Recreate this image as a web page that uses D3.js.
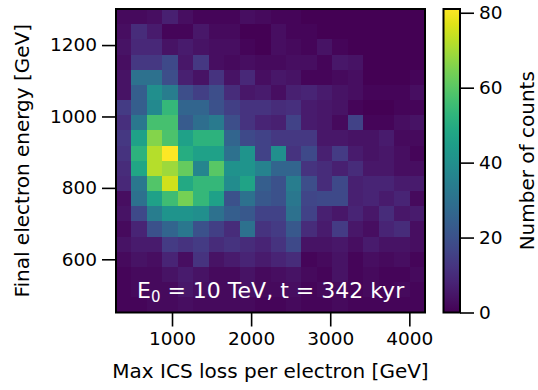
<!DOCTYPE html>
<html>
<head>
<meta charset="utf-8">
<script src="https://cdn.jsdelivr.net/npm/d3@7"></script>
<style>
  html, body { margin: 0; padding: 0; background: #fff; }
  svg text { font-family: "DejaVu Sans", sans-serif; }
</style>
</head>
<body>
<div id="chart"></div>
<script>
// histogram bin ranges (20 x 20 bins)
const xRange = [292, 4198];   // Max ICS loss per electron [GeV]
const yRange = [451, 1301];   // Final electron energy [GeV]
const nBinsX = 20;
const nBinsY = 20;

// counts, rows from highest energy (top) to lowest (bottom)
const counts = [
  [2, 2, 3, 7, 3, 1, 1, 1, 3, 2, 1, 1, 0, 0, 0, 0, 0, 0, 0, 0],
  [3, 10, 6, 1, 1, 5, 2, 2, 0, 0, 3, 1, 1, 0, 0, 0, 0, 0, 0, 0],
  [4, 9, 9, 4, 6, 4, 3, 3, 1, 0, 3, 2, 1, 4, 1, 0, 0, 0, 0, 0],
  [3, 13, 13, 18, 5, 13, 3, 2, 3, 2, 2, 3, 3, 1, 5, 4, 0, 0, 0, 0],
  [4, 30, 30, 19, 7, 4, 12, 4, 9, 3, 5, 4, 1, 1, 2, 3, 0, 0, 0, 1],
  [4, 24, 40, 34, 19, 15, 19, 10, 5, 6, 3, 7, 8, 6, 4, 3, 1, 1, 1, 3],
  [14, 24, 38, 54, 26, 26, 20, 15, 12, 12, 10, 11, 6, 5, 4, 1, 0, 0, 1, 1],
  [11, 32, 57, 57, 23, 29, 33, 19, 12, 8, 7, 16, 6, 5, 2, 16, 1, 1, 3, 4],
  [13, 46, 66, 58, 46, 52, 52, 26, 18, 16, 13, 13, 13, 5, 5, 4, 4, 6, 2, 2],
  [12, 52, 72, 81, 50, 46, 46, 30, 42, 16, 40, 12, 18, 7, 14, 6, 4, 5, 3, 1],
  [10, 48, 72, 69, 62, 37, 60, 41, 42, 36, 26, 26, 12, 10, 7, 10, 5, 5, 3, 3],
  [9, 32, 59, 75, 49, 54, 54, 39, 47, 24, 20, 34, 19, 10, 18, 7, 8, 8, 6, 6],
  [3, 30, 46, 56, 64, 54, 46, 20, 30, 22, 20, 32, 17, 18, 18, 7, 8, 6, 8, 2],
  [4, 18, 34, 42, 42, 40, 30, 24, 22, 16, 16, 30, 16, 7, 5, 8, 5, 10, 5, 6],
  [2, 8, 20, 26, 32, 20, 15, 10, 30, 12, 14, 22, 10, 6, 14, 5, 3, 8, 10, 3],
  [4, 6, 6, 14, 12, 14, 10, 12, 10, 8, 12, 18, 4, 4, 5, 3, 6, 4, 4, 3],
  [2, 4, 3, 8, 3, 12, 4, 6, 8, 6, 8, 10, 1, 2, 4, 1, 3, 2, 3, 1],
  [1, 2, 2, 4, 6, 4, 2, 2, 4, 2, 3, 4, 2, 1, 4, 1, 2, 1, 1, 2],
  [1, 2, 2, 2, 5, 3, 2, 2, 4, 2, 2, 3, 1, 2, 2, 1, 2, 1, 2, 1],
  [1, 1, 2, 2, 3, 2, 2, 2, 2, 1, 1, 2, 1, 1, 2, 1, 1, 1, 1, 1]
];

const xTicks = [1000, 2000, 3000, 4000];
const yTicks = [600, 800, 1000, 1200];
const cbTicks = [0, 20, 40, 60, 80];
const cbMax = 81;

const xLabel = 'Max ICS loss per electron [GeV]';
const yLabel = 'Final electron energy [GeV]';
const cbLabel = 'Number of counts';

const width = 538, height = 390;
const plot = { left: 116, right: 425, top: 9, bottom: 312.5 };
const cbar = { left: 443.5, right: 460, top: 9, bottom: 312.5 };
const tickFs = 18.5;
const labelFs = 20;

const svg = d3.select('#chart').append('svg')
              .attr('width', width)
              .attr('height', height);

const x = d3.scaleLinear().domain(xRange).range([plot.left, plot.right]);
const y = d3.scaleLinear().domain(yRange).range([plot.bottom, plot.top]);
const color = d3.scaleSequential(d3.interpolateViridis).domain([0, cbMax]);

const dx = (xRange[1] - xRange[0]) / nBinsX;
const dy = (yRange[1] - yRange[0]) / nBinsY;

// flatten to cells
const cells = [];
counts.forEach((row, r) => {
	row.forEach((v, c) => {
		const y0 = yRange[1] - (r + 1) * dy;
		cells.push({ x0: xRange[0] + c * dx, x1: xRange[0] + (c + 1) * dx, y0: y0, y1: y0 + dy, v: v });
	});
});

svg.append('g')
   .attr('class', 'cells')
   .attr('shape-rendering', 'crispEdges')
   .selectAll('rect')
   .data(cells)
   .join('rect')
   .attr('x', d => x(d.x0))
   .attr('y', d => y(d.y1))
   .attr('width', d => x(d.x1) - x(d.x0) + 0.5)
   .attr('height', d => y(d.y0) - y(d.y1) + 0.5)
   .attr('fill', d => color(d.v));

// annotation
const note = svg.append('text')
                .attr('x', 137)
                .attr('y', 298)
                .attr('fill', '#fff')
                .attr('font-size', 22);
note.append('tspan').text('E');
note.append('tspan').attr('font-size', 15).attr('dy', 4).text('0');
note.append('tspan').attr('dy', -4).text(' = 10 TeV, t = 342 kyr');

// axes
const styleAxis = g => {
	g.select('.domain').remove();
	g.selectAll('line').attr('stroke', '#000').attr('stroke-width', 1.6);
	g.selectAll('text').attr('fill', '#000').attr('font-size', tickFs);
};

svg.append('g')
   .attr('transform', `translate(0, ${plot.bottom})`)
   .call(d3.axisBottom(x).tickValues(xTicks).tickSize(14).tickPadding(5).tickFormat(d3.format('d')))
   .call(styleAxis);

svg.append('g')
   .attr('transform', `translate(${plot.left}, 0)`)
   .call(d3.axisLeft(y).tickValues(yTicks).tickSize(14).tickPadding(5).tickFormat(d3.format('d')))
   .call(styleAxis);

// frame
svg.append('rect')
   .attr('x', plot.left)
   .attr('y', plot.top)
   .attr('width', plot.right - plot.left)
   .attr('height', plot.bottom - plot.top)
   .attr('fill', 'none')
   .attr('stroke', '#000')
   .attr('stroke-width', 2);

svg.append('text')
   .attr('x', (plot.left + plot.right) / 2)
   .attr('y', 378)
   .attr('text-anchor', 'middle')
   .attr('font-size', labelFs)
   .text(xLabel);

svg.append('text')
   .attr('transform', `translate(29, ${(plot.top + plot.bottom) / 2}) rotate(-90)`)
   .attr('text-anchor', 'middle')
   .attr('font-size', labelFs)
   .text(yLabel);

// colorbar
const grad = svg.append('defs').append('linearGradient')
                .attr('id', 'cbgrad')
                .attr('x1', 0).attr('y1', 1).attr('x2', 0).attr('y2', 0);
d3.range(0, 1.0001, 0.05).forEach(t => {
	grad.append('stop').attr('offset', t).attr('stop-color', d3.interpolateViridis(t));
});

const cy = d3.scaleLinear().domain([0, cbMax]).range([cbar.bottom, cbar.top]);

svg.append('rect')
   .attr('x', cbar.left)
   .attr('y', cbar.top)
   .attr('width', cbar.right - cbar.left)
   .attr('height', cbar.bottom - cbar.top)
   .attr('fill', 'url(#cbgrad)')
   .attr('stroke', '#000')
   .attr('stroke-width', 2);

svg.append('g')
   .attr('transform', `translate(${cbar.right}, 0)`)
   .call(d3.axisRight(cy).tickValues(cbTicks).tickSize(14).tickPadding(5))
   .call(styleAxis);

svg.append('text')
   .attr('transform', `translate(534, ${(cbar.top + cbar.bottom) / 2}) rotate(-90)`)
   .attr('text-anchor', 'middle')
   .attr('font-size', labelFs)
   .text(cbLabel);
</script>
</body>
</html>
